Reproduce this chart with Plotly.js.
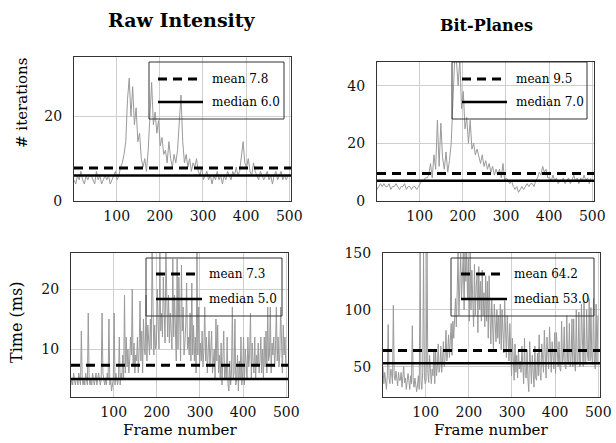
<!DOCTYPE html>
<html><head><meta charset="utf-8">
<script src="https://cdn.plot.ly/plotly-3.0.1.min.js"></script>
<style>html,body{margin:0;padding:0;background:#fff}#chart{width:616px;height:443px}</style>
</head><body><div id="chart"></div>
<script>
// ---- data ----
// iteration counts sampled every 4th frame, times every 2nd frame
const framesIter = Array.from({length: 125}, (_, i) => 1 + 4 * i);
const framesTime = Array.from({length: 250}, (_, i) => 1 + 2 * i);

const rawIterations = [
  5,4,6,5,7,5,4,6,5,6,
  6,5,4,7,5,6,4,5,6,5,
  6,4,5,6,7,5,6,8,9,11,
  14,24,29,20,27,18,22,14,16,10,
  8,10,7,12,22,28,18,21,16,19,
  13,15,11,12,9,14,10,8,11,9,
  12,18,25,14,9,11,8,10,7,9,
  8,10,7,6,8,5,6,7,5,6,
  4,6,5,7,5,6,4,6,5,7,
  6,5,7,6,8,6,7,10,14,9,
  8,10,7,6,9,7,6,5,7,6,
  5,6,7,5,6,4,6,7,5,6,
  7,5,6,5,6
];
const bitIterations = [
  4,5,6,5,6,5,5,6,4,5,
  5,6,5,4,5,5,6,4,5,5,
  4,5,5,4,5,6,7,7,8,8,
  9,13,8,16,11,28,12,27,15,11,
  17,10,14,20,38,49,49,40,49,32,
  38,25,29,20,28,18,20,16,18,15,
  13,16,12,14,11,13,10,12,9,11,
  9,11,8,13,7,8,7,6,7,5,
  4,5,3,4,5,4,5,6,5,6,
  6,5,7,8,10,9,12,10,11,8,
  8,7,9,7,8,6,7,7,8,6,
  7,8,6,7,9,7,8,6,8,7,
  9,7,8,6,8
];
const rawTime = [
  4,5,4,6,5,4,5,5,4,6,5,4,13,5,4,5,4,6,5,4,
  16,5,4,5,4,6,5,4,5,6,4,5,6,5,4,5,16,6,5,4,
  5,4,6,5,15,4,5,3,4,5,16,4,6,5,4,5,12,4,6,5,
  9,5,19,6,12,7,10,6,8,12,9,20,7,11,6,9,8,12,6,10,
  18,8,13,6,15,10,9,19,8,14,11,9,15,10,26,12,9,14,10,11,
  20,14,10,26,13,16,12,22,15,11,26,14,12,19,11,16,13,10,25,12,
  19,14,8,25,10,22,12,8,24,13,17,9,11,14,21,10,12,9,16,8,
  21,9,14,8,12,6,26,9,17,7,11,8,13,7,10,17,8,12,6,9,
  13,7,10,13,6,9,10,5,15,8,14,6,9,5,11,4,8,13,5,7,
  5,12,4,3,8,4,6,17,5,6,15,4,5,9,3,8,5,12,4,6,
  12,4,10,6,5,12,7,9,16,5,11,8,6,12,5,9,7,11,6,8,
  12,6,10,5,12,7,13,6,17,8,9,17,6,11,9,12,7,10,17,8,
  12,7,9,17,8,6,14,9,12,7
];
const bitTime = [
  50,35,45,38,30,42,87,40,35,48,44,35,104,42,38,46,40,33,45,38,
  38,45,32,40,50,36,40,30,36,44,38,30,42,35,86,38,32,40,34,28,
  34,42,30,150,38,30,45,150,40,35,38,150,45,36,60,40,35,48,42,65,
  35,65,42,50,70,45,50,68,45,55,72,50,58,82,55,62,78,58,70,88,
  60,90,75,95,110,85,120,150,95,130,150,110,140,150,100,150,125,150,110,145,
  90,150,100,135,110,85,140,95,120,130,80,138,100,125,90,135,95,115,85,130,
  90,125,75,130,95,70,110,80,65,105,90,72,100,75,95,70,105,65,100,72,
  62,108,70,58,95,65,55,88,60,42,75,50,38,70,45,60,40,65,48,55,
  45,68,40,35,75,42,40,65,38,28,72,40,35,60,45,32,68,40,38,62,
  42,78,45,38,70,50,45,82,48,40,76,52,48,85,50,45,72,55,48,80,
  44,80,55,50,72,48,46,90,52,58,85,50,48,95,55,52,88,50,58,92,
  50,92,55,46,100,52,55,98,50,52,105,58,50,108,55,52,100,60,55,110,
  55,102,58,52,110,56,48,105,52,95
];

const meanValues   = [7.8, 9.5, 7.3, 64.2];
const medianValues = [6.0, 7.0, 5.0, 53.0];
const columnTitles = ["Raw Intensity", "Bit-Planes"];
const rowTitles    = ["# iterations", "Time (ms)"];
const xAxisTitle   = "Frame number";
const xTickVals    = [100, 200, 300, 400, 500];
const yTickVals    = [[0, 20], [0, 20, 40], [10, 20], [50, 100, 150]];

// ---- layout helpers (pixel boxes of each panel) ----
const W = 616, H = 443;
const boxes = [
  {l: 74,  r: 291, t: 57,  b: 201, yr: [0, 34]},
  {l: 377, r: 594, t: 62,  b: 201, yr: [0, 48.2]},
  {l: 71,  r: 288, t: 253, b: 397, yr: [2, 26]},
  {l: 383, r: 600, t: 253, b: 397, yr: [23.3, 150]}
];
const legendBoxes = [
  {l: 149, r: 284, t: 62,  b: 119, x0: 158, x1: 201, tx: 210, ym: 79,  yd: 102},
  {l: 452, r: 587, t: 62,  b: 119, x0: 462, x1: 505, tx: 514, ym: 79,  yd: 102},
  {l: 146, r: 282, t: 258, b: 316, x0: 156, x1: 200, tx: 207, ym: 274, yd: 299},
  {l: 451, r: 594, t: 258, b: 316, x0: 461, x1: 505, tx: 512, ym: 274, yd: 299}
];
const px = x => x / W, py = y => 1 - y / H;
const series = [rawIterations, bitIterations, rawTime, bitTime];
const seriesFrames = [framesIter, framesIter, framesTime, framesTime];
const serif = "DejaVu Serif, Liberation Serif, serif";

const data = [], shapes = [], annotations = [];
const layout = {
  width: W, height: H, margin: {l: 0, r: 0, t: 0, b: 0},
  paper_bgcolor: "#fff", plot_bgcolor: "#fff", showlegend: false,
  font: {family: serif, size: 14, color: "#000"}
};

series.forEach((ys, i) => {
  const k = i + 1, xa = "x" + (k === 1 ? "" : k), ya = "y" + (k === 1 ? "" : k);
  const b = boxes[i];
  data.push({x: seriesFrames[i], y: ys, xaxis: xa, yaxis: ya, type: "scatter", mode: "lines",
             line: {color: "#9a9a9a", width: 1}, hoverinfo: "skip"});
  layout["xaxis" + (k === 1 ? "" : k)] = {
    domain: [px(b.l), px(b.r)], anchor: ya, range: [1, 504],
    tickvals: xTickVals, ticktext: xTickVals.map(String),
    showgrid: true, gridcolor: "#cfcfcf", gridwidth: 1, zeroline: false,
    showline: true, linecolor: "#333", linewidth: 1, mirror: true,
    ticks: "", ticklabelstandoff: 2, tickfont: {family: serif, size: 14, color: "#111"}
  };
  layout["yaxis" + (k === 1 ? "" : k)] = {
    domain: [py(b.b), py(b.t)], anchor: xa, range: b.yr,
    tickvals: yTickVals[i], ticktext: yTickVals[i].map(String),
    showgrid: true, gridcolor: "#cfcfcf", gridwidth: 1, zeroline: false,
    showline: true, linecolor: "#333", linewidth: 1, mirror: true,
    ticks: "", ticklabelstandoff: 8, tickfont: {family: serif, size: 14, color: "#111"}
  };
  // mean / median reference lines
  shapes.push({type: "line", xref: xa + " domain", yref: ya, x0: 0, x1: 1,
               y0: meanValues[i], y1: meanValues[i], layer: "above",
               line: {color: "#000", width: 3, dash: "9px,6px"}});
  shapes.push({type: "line", xref: xa + " domain", yref: ya, x0: 0, x1: 1,
               y0: medianValues[i], y1: medianValues[i], layer: "above",
               line: {color: "#000", width: 2.5}});
  // legend box
  const L = legendBoxes[i];
  shapes.push({type: "rect", xref: "paper", yref: "paper", x0: px(L.l), x1: px(L.r),
               y0: py(L.b), y1: py(L.t), line: {color: "#333", width: 1}, layer: "above"});
  shapes.push({type: "line", xref: "paper", yref: "paper", x0: px(L.x0), x1: px(L.x1),
               y0: py(L.ym), y1: py(L.ym), line: {color: "#000", width: 3, dash: "9px,6px"}, layer: "above"});
  shapes.push({type: "line", xref: "paper", yref: "paper", x0: px(L.x0), x1: px(L.x1 + 2),
               y0: py(L.yd), y1: py(L.yd), line: {color: "#000", width: 2.5}, layer: "above"});
  annotations.push({xref: "paper", yref: "paper", x: px(L.tx), y: py(L.ym), xanchor: "left",
               yanchor: "middle", showarrow: false, text: "mean " + meanValues[i].toFixed(1),
               font: {family: serif, size: 12, color: "#000"}});
  annotations.push({xref: "paper", yref: "paper", x: px(L.tx), y: py(L.yd), xanchor: "left",
               yanchor: "middle", showarrow: false, text: "median " + medianValues[i].toFixed(1),
               font: {family: serif, size: 12, color: "#000"}});
});

// column titles, row titles, x titles
const centered = {xref: "paper", yref: "paper", xanchor: "center", yanchor: "middle", showarrow: false};
annotations.push(Object.assign({}, centered, {x: px(182), y: py(20),
  text: "<b>" + columnTitles[0] + "</b>", font: {family: serif, size: 19}}));
annotations.push(Object.assign({}, centered, {x: px(486), y: py(25),
  text: "<b>" + columnTitles[1] + "</b>", font: {family: serif, size: 16}}));
annotations.push(Object.assign({}, centered, {x: px(22), y: py(103),
  textangle: -90, text: rowTitles[0], font: {family: serif, size: 15}}));
annotations.push(Object.assign({}, centered, {x: px(16), y: py(323),
  textangle: -90, text: rowTitles[1], font: {family: serif, size: 16}}));
annotations.push(Object.assign({}, centered, {x: px(180), y: py(430),
  text: xAxisTitle, font: {family: serif, size: 15}}));
annotations.push(Object.assign({}, centered, {x: px(491), y: py(430),
  text: xAxisTitle, font: {family: serif, size: 15}}));

layout.shapes = shapes;
layout.annotations = annotations;
Plotly.newPlot("chart", data, layout, {staticPlot: true, displayModeBar: false});
</script></body></html>
